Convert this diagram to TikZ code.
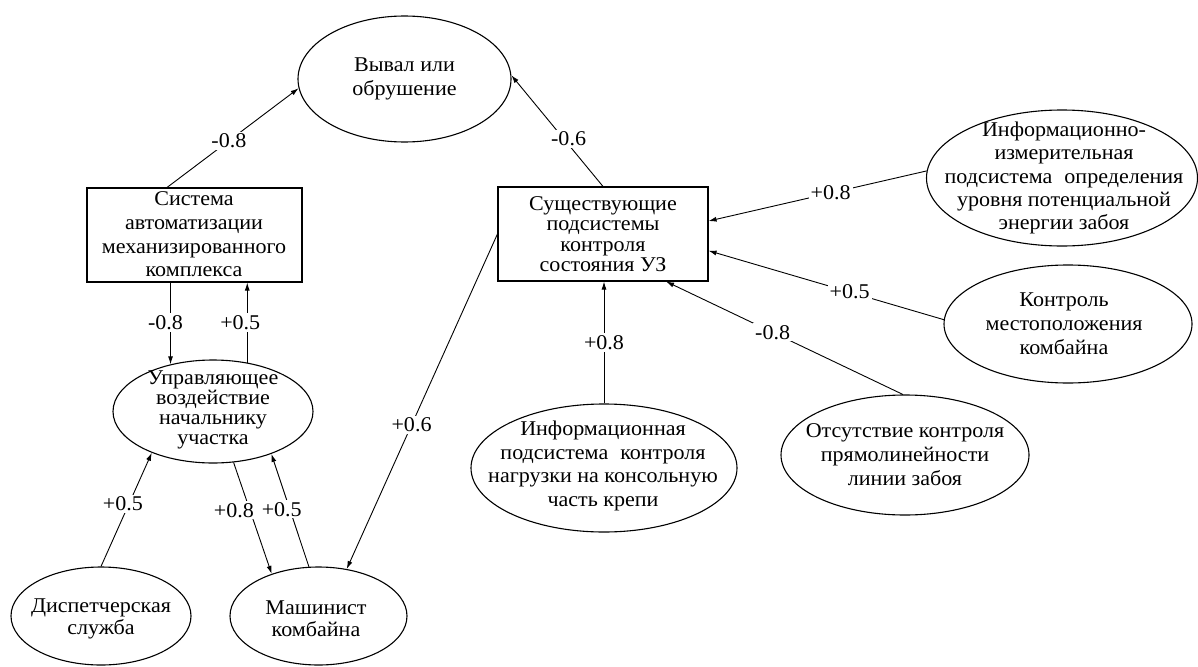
\documentclass[tikz,border=0pt]{standalone}
\usepackage{fontspec}
\setmainfont[FakeStretch=1.05]{Liberation Serif}
\usetikzlibrary{shapes.geometric,arrows.meta}

\begin{document}
\begin{tikzpicture}[x=1pt,y=-1pt,
  ell/.style={draw, line width=1.1pt, ellipse, inner sep=0pt},
  blk/.style={draw, line width=1.1pt, rectangle, inner sep=0pt},
  txt/.style={align=center, inner sep=0pt, font=\fontsize{21}{24}\selectfont},
  txtt/.style={align=center, inner sep=0pt, font=\fontsize{21}{20.5}\selectfont},
  con/.style={line width=0.9pt, -{Latex[length=8pt,width=5pt]}},
  lbl/.style={fill=white, inner sep=2pt, font=\fontsize{21}{24}\selectfont},
]
\useasboundingbox (0,0) rectangle (1198,666);

% outlines
\node[ell, minimum width=213, minimum height=126] (vyval) at (404.5,79) {};
\node[blk, minimum width=215, minimum height=94] (sys) at (194.5,235) {};
\node[blk, minimum width=210, minimum height=94] (sus) at (603,234) {};
\node[ell, minimum width=200, minimum height=103] (upr) at (213,411.5) {};
\node[ell, minimum width=180, minimum height=98] (disp) at (101,616) {};
\node[ell, minimum width=177, minimum height=98] (mash) at (318.5,616) {};
\node[ell, minimum width=271, minimum height=136] (iim) at (1062,178) {};
\node[ell, minimum width=248, minimum height=118] (kon) at (1068,324) {};
\node[ell, minimum width=266, minimum height=128] (ipk) at (604,468) {};
\node[ell, minimum width=248, minimum height=120] (ots) at (905,455) {};

% texts
\node[txt] (vyval-t) at (404.5,79) {Вывал или\\обрушение};
\node[txt, font=\fontsize{21}{23.7}\selectfont] (sys-t) at (194,234.5) {Система\\автоматизации\\механизированного\\комплекса};
\node[txtt] (sus-t) at (603,234) {Существующие\\подсистемы\\контроля\\состояния УЗ};
\node[txt, font=\fontsize{21}{20}\selectfont] (upr-t) at (213,410) {Управляющее\\воздействие\\начальнику\\участка};
\node[txt, font=\fontsize{21}{22}\selectfont] (disp-t) at (101,619) {Диспетчерская\\служба};
\node[txt, font=\fontsize{21}{22}\selectfont] (mash-t) at (316,619) {Машинист\\комбайна};
\node[txt, font=\fontsize{21}{23.3}\selectfont] (iim-t) at (1064,178) {Информационно-\\измерительная\\подсистема\hspace{12pt}определения\\уровня потенциальной\\энергии забоя};
\node[txt] (kon-t) at (1064,324) {Контроль\\местоположения\\комбайна};
\node[txt, font=\fontsize{21}{23.5}\selectfont] (ipk-t) at (603,466) {Информационная\\подсистема\hspace{12pt}контроля\\нагрузки на консольную\\часть крепи};
\node[txt] (ots-t) at (905,455) {Отсутствие контроля\\прямолинейности\\линии забоя};

% connectors
\draw[con] (sys.120) -- node[lbl, pos=0.47] (w1) {-0.8} (vyval.185);
\draw[con] (sus.north) -- node[lbl, pos=0.43, xshift=5] (w2) {-0.6} (vyval.2);
\draw[con] (iim.177) -- node[lbl, pos=0.44] (w3) {+0.8} (sus.7.6);
\draw[con] (kon.178) -- node[lbl, pos=0.40] (w4) {+0.5} (sus.-9.7);
\draw[con] (ots.92) -- node[lbl, pos=0.55] (w5) {-0.8} (sus.-37.2);
\draw[con] (ipk.north) -- node[lbl, pos=0.5] (w6) {+0.8} (ipk.north |- sus.south);
\draw[con] (sus.west) -- node[lbl, pos=0.57] (w7) {+0.6} (mash.59.4);
\draw[con] (upr.132.8 |- sys.south) -- node[lbl, pos=0.49, xshift=-5] (w8) {-0.8} (upr.132.8);
\draw[con] (upr.55.8) -- node[lbl, pos=0.5, xshift=-7] (w9) {+0.5} (upr.55.8 |- sys.south);
\draw[con] (disp.north) -- node[lbl, pos=0.55, xshift=-6] (w10) {+0.5} (upr.214);
\draw[con] (upr.-68.8) -- node[lbl, pos=0.43, xshift=-16] (w11) {+0.8} (mash.138.7);
\draw[con] (mash.101.8) -- node[lbl, pos=0.51, xshift=-8] (w12) {+0.5} (upr.-36.7);
\end{tikzpicture}
\end{document}
